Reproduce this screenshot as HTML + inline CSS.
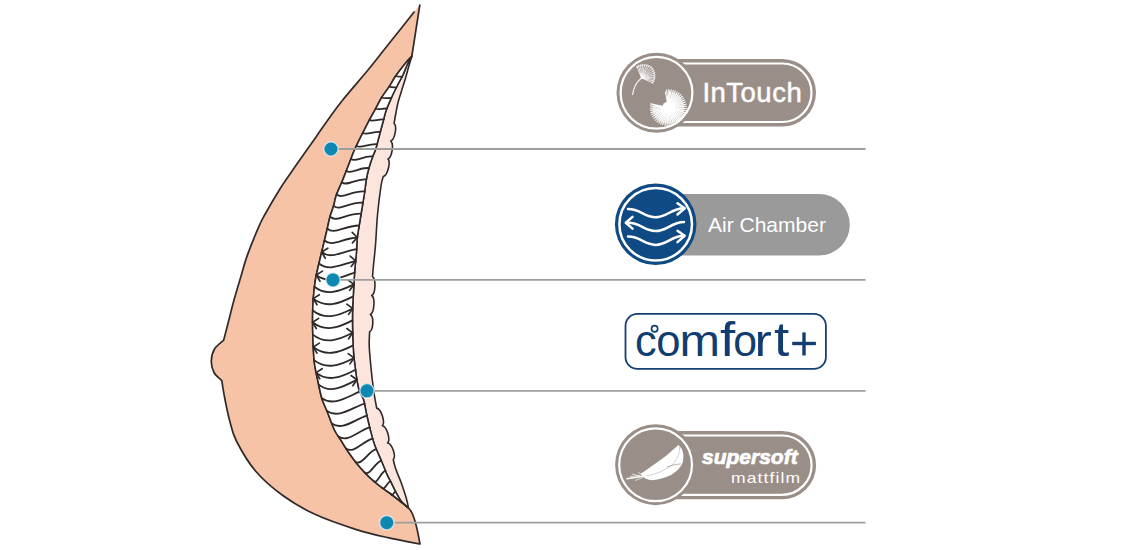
<!DOCTYPE html>
<html><head><meta charset="utf-8">
<style>
html,body{margin:0;padding:0;background:#fff;}
body{width:1140px;height:550px;overflow:hidden;position:relative;font-family:"Liberation Sans",sans-serif;}
svg{position:absolute;left:0;top:0;}
</style></head><body>
<svg width="1140" height="550" viewBox="0 0 1140 550">
<path d="M419.90,4.50 L414.50,11.50 C409.40,17.92 391.65,40.25 383.90,50.00 C376.15,59.75 374.87,61.67 368.00,70.00 C361.13,78.33 349.18,91.97 342.70,100.00 C336.22,108.03 333.48,112.13 329.10,118.20 C324.72,124.27 320.65,130.35 316.40,136.40 C312.15,142.45 307.85,148.45 303.60,154.50 C299.35,160.55 294.95,166.78 290.90,172.70 C286.85,178.62 283.58,183.12 279.30,190.00 C275.02,196.88 268.65,207.82 265.20,214.00 C261.75,220.18 261.58,220.20 258.60,227.10 C255.62,234.00 250.28,247.05 247.30,255.40 C244.32,263.75 242.92,269.77 240.70,277.20 C238.48,284.63 236.05,292.57 234.00,300.00 C231.95,307.43 230.13,315.07 228.40,321.80 C226.67,328.53 224.40,337.30 223.60,340.40 C222.08,341.83 216.55,345.57 214.50,349.00 C212.45,352.43 211.38,357.08 211.30,361.00 C211.22,364.92 212.25,369.22 214.00,372.50 C215.75,375.78 220.50,379.33 221.80,380.70 C222.28,383.58 223.42,391.45 224.70,398.00 C225.98,404.55 227.55,412.83 229.50,420.00 C231.45,427.17 232.07,432.50 236.40,441.00 C240.73,449.50 247.77,461.92 255.50,471.00 C263.23,480.08 272.80,488.23 282.80,495.50 C292.80,502.77 303.23,508.92 315.50,514.60 C327.77,520.28 344.15,525.72 356.40,529.60 C368.65,533.48 378.40,535.50 389.00,537.90 C399.60,540.30 414.83,542.98 420.00,544.00 C419.70,542.42 418.80,537.43 418.20,534.50 C417.60,531.57 417.08,529.12 416.40,526.40 C415.72,523.68 414.93,520.63 414.10,518.20 C413.27,515.77 412.37,513.53 411.40,511.80 C410.43,510.07 408.82,508.47 408.30,507.80 C407.15,506.88 404.07,504.43 401.40,502.30 C398.73,500.17 395.33,497.28 392.30,495.00 C389.27,492.72 386.23,490.87 383.20,488.60 C380.17,486.33 377.13,484.03 374.10,481.40 C371.07,478.77 368.05,476.00 365.00,472.80 C361.95,469.60 358.75,465.92 355.80,462.20 C352.85,458.48 349.85,454.28 347.30,450.50 C344.75,446.72 342.63,442.92 340.50,439.50 C338.37,436.08 336.70,434.62 334.50,430.00 C332.30,425.38 329.42,417.10 327.30,411.80 C325.18,406.50 323.40,403.50 321.80,398.20 C320.20,392.90 318.95,386.03 317.70,380.00 C316.45,373.97 315.08,368.67 314.30,362.00 C313.52,355.33 313.28,347.00 313.00,340.00 C312.72,333.00 312.57,326.67 312.60,320.00 C312.63,313.33 312.73,306.67 313.20,300.00 C313.67,293.33 314.30,286.67 315.40,280.00 C316.50,273.33 318.28,266.58 319.80,260.00 C321.32,253.42 323.25,245.73 324.50,240.50 C325.75,235.27 326.38,232.55 327.30,228.60 C328.22,224.65 328.95,220.58 330.00,216.80 C331.05,213.02 332.53,209.53 333.60,205.90 C334.67,202.27 335.03,198.93 336.40,195.00 C337.77,191.07 340.27,186.02 341.80,182.30 C343.33,178.58 344.08,176.58 345.60,172.70 C347.12,168.82 349.42,162.78 350.90,159.00 C352.38,155.22 352.73,153.92 354.50,150.00 C356.27,146.08 359.13,140.28 361.50,135.50 C363.87,130.72 366.40,125.67 368.70,121.30 C371.00,116.93 373.12,113.30 375.30,109.30 C377.48,105.30 379.45,101.12 381.80,97.30 C384.15,93.48 387.28,89.65 389.40,86.40 C391.52,83.15 392.65,80.62 394.50,77.80 C396.35,74.98 398.22,72.47 400.50,69.50 C402.78,66.53 406.32,62.17 408.20,60.00 C410.08,57.83 411.20,57.08 411.80,56.50 Z" fill="#F7C3A6"/>
<path d="M414.50,11.50 C409.40,17.92 391.65,40.25 383.90,50.00 C376.15,59.75 374.87,61.67 368.00,70.00 C361.13,78.33 349.18,91.97 342.70,100.00 C336.22,108.03 333.48,112.13 329.10,118.20 C324.72,124.27 320.65,130.35 316.40,136.40 C312.15,142.45 307.85,148.45 303.60,154.50 C299.35,160.55 294.95,166.78 290.90,172.70 C286.85,178.62 283.58,183.12 279.30,190.00 C275.02,196.88 268.65,207.82 265.20,214.00 C261.75,220.18 261.58,220.20 258.60,227.10 C255.62,234.00 250.28,247.05 247.30,255.40 C244.32,263.75 242.92,269.77 240.70,277.20 C238.48,284.63 236.05,292.57 234.00,300.00 C231.95,307.43 230.13,315.07 228.40,321.80 C226.67,328.53 224.40,337.30 223.60,340.40 C222.08,341.83 216.55,345.57 214.50,349.00 C212.45,352.43 211.38,357.08 211.30,361.00 C211.22,364.92 212.25,369.22 214.00,372.50 C215.75,375.78 220.50,379.33 221.80,380.70 C222.28,383.58 223.42,391.45 224.70,398.00 C225.98,404.55 227.55,412.83 229.50,420.00 C231.45,427.17 232.07,432.50 236.40,441.00 C240.73,449.50 247.77,461.92 255.50,471.00 C263.23,480.08 272.80,488.23 282.80,495.50 C292.80,502.77 303.23,508.92 315.50,514.60 C327.77,520.28 344.15,525.72 356.40,529.60 C368.65,533.48 378.40,535.50 389.00,537.90 C399.60,540.30 414.83,542.98 420.00,544.00 C419.70,542.42 418.80,537.43 418.20,534.50 C417.60,531.57 417.08,529.12 416.40,526.40 C415.72,523.68 414.93,520.63 414.10,518.20 C413.27,515.77 412.37,513.53 411.40,511.80 C410.43,510.07 408.82,508.47 408.30,507.80 C407.15,506.88 404.07,504.43 401.40,502.30 C398.73,500.17 395.33,497.28 392.30,495.00 C389.27,492.72 386.23,490.87 383.20,488.60 C380.17,486.33 377.13,484.03 374.10,481.40 C371.07,478.77 368.05,476.00 365.00,472.80 C361.95,469.60 358.75,465.92 355.80,462.20 C352.85,458.48 349.85,454.28 347.30,450.50 C344.75,446.72 342.63,442.92 340.50,439.50 C338.37,436.08 336.70,434.62 334.50,430.00 C332.30,425.38 329.42,417.10 327.30,411.80 C325.18,406.50 323.40,403.50 321.80,398.20 C320.20,392.90 318.95,386.03 317.70,380.00 C316.45,373.97 315.08,368.67 314.30,362.00 C313.52,355.33 313.28,347.00 313.00,340.00 C312.72,333.00 312.57,326.67 312.60,320.00 C312.63,313.33 312.73,306.67 313.20,300.00 C313.67,293.33 314.30,286.67 315.40,280.00 C316.50,273.33 318.28,266.58 319.80,260.00 C321.32,253.42 323.25,245.73 324.50,240.50 C325.75,235.27 326.38,232.55 327.30,228.60 C328.22,224.65 328.95,220.58 330.00,216.80 C331.05,213.02 332.53,209.53 333.60,205.90 C334.67,202.27 335.03,198.93 336.40,195.00 C337.77,191.07 340.27,186.02 341.80,182.30 C343.33,178.58 344.08,176.58 345.60,172.70 C347.12,168.82 349.42,162.78 350.90,159.00 C352.38,155.22 352.73,153.92 354.50,150.00 C356.27,146.08 359.13,140.28 361.50,135.50 C363.87,130.72 366.40,125.67 368.70,121.30 C371.00,116.93 373.12,113.30 375.30,109.30 C377.48,105.30 379.45,101.12 381.80,97.30 C384.15,93.48 387.28,89.65 389.40,86.40 C391.52,83.15 392.65,80.62 394.50,77.80 C396.35,74.98 398.22,72.47 400.50,69.50 C402.78,66.53 406.32,62.17 408.20,60.00 C410.08,57.83 411.20,57.08 411.80,56.50 L419.90,4.50" fill="none" stroke="#2f2a29" stroke-width="1.7" stroke-linejoin="round"/>
<path d="M411.80,56.50 C411.33,58.00 410.05,61.88 409.00,65.50 C407.95,69.12 406.70,74.12 405.50,78.20 C404.30,82.28 403.02,86.07 401.80,90.00 C400.58,93.93 399.15,98.13 398.20,101.80 C397.25,105.47 396.78,108.42 396.10,112.00 C395.42,115.58 394.43,121.42 394.10,123.30 C397.37,126.11 394.86,139.64 390.80,141.10 C394.14,143.81 392.01,157.34 388.00,158.90 C391.03,161.97 387.46,175.35 383.30,176.50 C382.92,178.08 381.97,179.58 381.00,186.00 C380.03,192.42 378.42,205.17 377.50,215.00 C376.58,224.83 376.17,236.67 375.50,245.00 C374.83,253.33 374.00,259.73 373.50,265.00 C373.00,270.27 372.67,274.67 372.50,276.60 C376.14,279.01 375.61,293.37 371.80,295.50 C375.35,298.05 374.28,312.49 370.40,314.50 C374.02,316.76 373.42,329.98 369.60,331.90 C369.53,334.08 369.08,340.32 369.20,345.00 C369.32,349.68 369.78,354.17 370.30,360.00 C370.82,365.83 371.60,374.00 372.30,380.00 C373.00,386.00 373.77,391.32 374.50,396.00 C375.23,400.68 376.33,406.08 376.70,408.10 C381.18,408.98 385.51,422.36 382.40,425.70 C386.85,426.63 390.80,439.78 387.60,443.00 C392.06,443.70 396.39,456.31 393.30,459.60 C393.55,460.67 394.07,463.58 394.80,466.00 C395.53,468.42 396.60,471.23 397.70,474.10 C398.80,476.97 400.18,479.87 401.40,483.20 C402.62,486.53 403.98,490.80 405.00,494.10 C406.02,497.40 406.95,500.72 407.50,503.00 C408.05,505.28 408.17,507.00 408.30,507.80 C407.15,506.73 403.47,503.98 401.40,501.40 C399.33,498.82 397.57,495.33 395.90,492.30 C394.23,489.27 392.92,486.23 391.40,483.20 C389.88,480.17 388.53,477.97 386.80,474.10 C385.07,470.23 383.03,464.85 381.00,460.00 C378.97,455.15 376.38,450.00 374.60,445.00 C372.82,440.00 371.65,435.17 370.30,430.00 C368.95,424.83 367.62,419.00 366.50,414.00 C365.38,409.00 364.85,404.00 363.60,400.00 C362.35,396.00 360.12,393.33 359.00,390.00 C357.88,386.67 357.50,383.50 356.90,380.00 C356.30,376.50 355.88,372.67 355.40,369.00 C354.92,365.33 354.37,361.67 354.00,358.00 C353.63,354.33 353.43,351.67 353.20,347.00 C352.97,342.33 352.70,336.17 352.60,330.00 C352.50,323.83 352.43,316.67 352.60,310.00 C352.77,303.33 353.23,296.67 353.60,290.00 C353.97,283.33 354.33,276.22 354.80,270.00 C355.27,263.78 355.98,258.08 356.40,252.70 C356.82,247.32 356.85,242.15 357.30,237.70 C357.75,233.25 358.50,229.78 359.10,226.00 C359.70,222.22 360.30,218.67 360.90,215.00 C361.50,211.33 362.10,207.67 362.70,204.00 C363.30,200.33 363.88,197.17 364.50,193.00 C365.12,188.83 365.65,183.22 366.40,179.00 C367.15,174.78 367.95,171.47 369.00,167.70 C370.05,163.93 371.58,159.52 372.70,156.40 C373.82,153.28 374.40,153.23 375.70,149.00 C377.00,144.77 379.30,135.45 380.50,131.00 C381.70,126.55 381.95,125.75 382.90,122.30 C383.85,118.85 384.75,114.47 386.20,110.30 C387.65,106.13 389.70,101.52 391.60,97.30 C393.50,93.08 395.75,88.63 397.60,85.00 C399.45,81.37 401.08,78.92 402.70,75.50 C404.32,72.08 405.78,67.67 407.30,64.50 C408.82,61.33 411.05,57.83 411.80,56.50 Z" fill="#FCE5DC" stroke="#2f2a29" stroke-width="1.6" stroke-linejoin="round"/>
<path d="M411.80,56.50 C411.20,57.08 410.08,57.83 408.20,60.00 C406.32,62.17 402.78,66.53 400.50,69.50 C398.22,72.47 396.35,74.98 394.50,77.80 C392.65,80.62 391.52,83.15 389.40,86.40 C387.28,89.65 384.15,93.48 381.80,97.30 C379.45,101.12 377.48,105.30 375.30,109.30 C373.12,113.30 371.00,116.93 368.70,121.30 C366.40,125.67 363.87,130.72 361.50,135.50 C359.13,140.28 356.27,146.08 354.50,150.00 C352.73,153.92 352.38,155.22 350.90,159.00 C349.42,162.78 347.12,168.82 345.60,172.70 C344.08,176.58 343.33,178.58 341.80,182.30 C340.27,186.02 337.77,191.07 336.40,195.00 C335.03,198.93 334.67,202.27 333.60,205.90 C332.53,209.53 331.05,213.02 330.00,216.80 C328.95,220.58 328.22,224.65 327.30,228.60 C326.38,232.55 325.75,235.27 324.50,240.50 C323.25,245.73 321.32,253.42 319.80,260.00 C318.28,266.58 316.50,273.33 315.40,280.00 C314.30,286.67 313.67,293.33 313.20,300.00 C312.73,306.67 312.63,313.33 312.60,320.00 C312.57,326.67 312.72,333.00 313.00,340.00 C313.28,347.00 313.52,355.33 314.30,362.00 C315.08,368.67 316.45,373.97 317.70,380.00 C318.95,386.03 320.20,392.90 321.80,398.20 C323.40,403.50 325.18,406.50 327.30,411.80 C329.42,417.10 332.30,425.38 334.50,430.00 C336.70,434.62 338.37,436.08 340.50,439.50 C342.63,442.92 344.75,446.72 347.30,450.50 C349.85,454.28 352.85,458.48 355.80,462.20 C358.75,465.92 361.95,469.60 365.00,472.80 C368.05,476.00 371.07,478.77 374.10,481.40 C377.13,484.03 380.17,486.33 383.20,488.60 C386.23,490.87 389.27,492.72 392.30,495.00 C395.33,497.28 398.73,500.17 401.40,502.30 C404.07,504.43 407.15,506.88 408.30,507.80 C407.15,506.73 403.47,503.98 401.40,501.40 C399.33,498.82 397.57,495.33 395.90,492.30 C394.23,489.27 392.92,486.23 391.40,483.20 C389.88,480.17 388.53,477.97 386.80,474.10 C385.07,470.23 383.03,464.85 381.00,460.00 C378.97,455.15 376.38,450.00 374.60,445.00 C372.82,440.00 371.65,435.17 370.30,430.00 C368.95,424.83 367.62,419.00 366.50,414.00 C365.38,409.00 364.85,404.00 363.60,400.00 C362.35,396.00 360.12,393.33 359.00,390.00 C357.88,386.67 357.50,383.50 356.90,380.00 C356.30,376.50 355.88,372.67 355.40,369.00 C354.92,365.33 354.37,361.67 354.00,358.00 C353.63,354.33 353.43,351.67 353.20,347.00 C352.97,342.33 352.70,336.17 352.60,330.00 C352.50,323.83 352.43,316.67 352.60,310.00 C352.77,303.33 353.23,296.67 353.60,290.00 C353.97,283.33 354.33,276.22 354.80,270.00 C355.27,263.78 355.98,258.08 356.40,252.70 C356.82,247.32 356.85,242.15 357.30,237.70 C357.75,233.25 358.50,229.78 359.10,226.00 C359.70,222.22 360.30,218.67 360.90,215.00 C361.50,211.33 362.10,207.67 362.70,204.00 C363.30,200.33 363.88,197.17 364.50,193.00 C365.12,188.83 365.65,183.22 366.40,179.00 C367.15,174.78 367.95,171.47 369.00,167.70 C370.05,163.93 371.58,159.52 372.70,156.40 C373.82,153.28 374.40,153.23 375.70,149.00 C377.00,144.77 379.30,135.45 380.50,131.00 C381.70,126.55 381.95,125.75 382.90,122.30 C383.85,118.85 384.75,114.47 386.20,110.30 C387.65,106.13 389.70,101.52 391.60,97.30 C393.50,93.08 395.75,88.63 397.60,85.00 C399.45,81.37 401.08,78.92 402.70,75.50 C404.32,72.08 405.78,67.67 407.30,64.50 C408.82,61.33 411.05,57.83 411.80,56.50 Z" fill="#ffffff" stroke="#2f2a29" stroke-width="1.6" stroke-linejoin="round"/>
<path d="M395.71,76.00 C397.57,76.90 400.00,76.63 402.08,76.76" fill="none" stroke="#2f2a29" stroke-width="1.8" stroke-linecap="round"/>
<path d="M389.33,86.50 C391.35,87.66 393.97,87.14 396.40,87.36" fill="none" stroke="#2f2a29" stroke-width="1.8" stroke-linecap="round"/>
<path d="M381.68,97.50 C384.35,98.94 387.79,97.73 391.27,98.04" fill="none" stroke="#2f2a29" stroke-width="1.8" stroke-linecap="round"/>
<path d="M375.73,108.50 C378.77,110.21 382.61,108.12 386.84,108.52" fill="none" stroke="#2f2a29" stroke-width="1.8" stroke-linecap="round"/>
<path d="M369.39,120.00 C373.19,122.00 377.94,118.97 383.63,119.47" fill="none" stroke="#2f2a29" stroke-width="1.8" stroke-linecap="round"/>
<path d="M362.74,133.00 C367.29,135.49 372.88,131.17 380.28,131.83" fill="none" stroke="#2f2a29" stroke-width="1.8" stroke-linecap="round"/>
<path d="M356.37,146.00 C361.59,148.97 367.90,143.27 377.08,144.09" fill="none" stroke="#2f2a29" stroke-width="1.8" stroke-linecap="round"/>
<path d="M350.86,159.10 C356.24,162.57 362.74,155.46 372.68,156.45" fill="none" stroke="#2f2a29" stroke-width="1.8" stroke-linecap="round"/>
<path d="M346.30,170.90 C351.77,174.88 358.43,167.09 368.89,168.09" fill="none" stroke="#2f2a29" stroke-width="1.8" stroke-linecap="round"/>
<path d="M341.80,182.30 C347.64,186.79 354.80,178.38 366.33,179.38" fill="none" stroke="#2f2a29" stroke-width="1.8" stroke-linecap="round"/>
<path d="M336.58,194.50 C343.14,199.53 351.27,190.46 364.72,191.46" fill="none" stroke="#2f2a29" stroke-width="1.8" stroke-linecap="round"/>
<path d="M333.60,205.90 C340.31,211.44 348.70,201.79 362.91,202.74" fill="none" stroke="#2f2a29" stroke-width="1.8" stroke-linecap="round"/>
<path d="M330.00,216.80 C337.00,222.81 345.82,213.32 361.12,213.65" fill="none" stroke="#2f2a29" stroke-width="1.8" stroke-linecap="round"/>
<path d="M327.30,228.60 C334.33,235.11 343.27,225.87 359.18,225.52" fill="none" stroke="#2f2a29" stroke-width="1.8" stroke-linecap="round"/>
<path d="M324.50,240.50 C332.18,247.53 341.60,238.58 357.32,237.51" fill="none" stroke="#2f2a29" stroke-width="1.8" stroke-linecap="round"/>
<path d="M352.20,232.45 L357.32,237.51 L352.44,242.80" fill="none" stroke="#2f2a29" stroke-width="1.7" stroke-linecap="round" stroke-linejoin="round"/>
<path d="M321.70,252.00 C330.41,259.60 340.70,251.84 356.63,249.16" fill="none" stroke="#2f2a29" stroke-width="1.8" stroke-linecap="round"/>
<path d="M325.29,258.24 L321.70,252.00 L327.82,248.20" fill="none" stroke="#2f2a29" stroke-width="1.7" stroke-linecap="round" stroke-linejoin="round"/>
<path d="M318.98,263.50 C328.68,271.68 339.77,265.10 355.64,260.81" fill="none" stroke="#2f2a29" stroke-width="1.8" stroke-linecap="round"/>
<path d="M350.18,256.12 L355.64,260.81 L351.14,266.43" fill="none" stroke="#2f2a29" stroke-width="1.7" stroke-linecap="round" stroke-linejoin="round"/>
<path d="M316.34,275.00 C327.06,283.75 338.93,278.37 354.62,272.47" fill="none" stroke="#2f2a29" stroke-width="1.8" stroke-linecap="round"/>
<path d="M319.99,281.20 L316.34,275.00 L322.41,271.13" fill="none" stroke="#2f2a29" stroke-width="1.7" stroke-linecap="round" stroke-linejoin="round"/>
<path d="M314.43,286.80 C326.10,296.14 338.65,291.98 353.90,284.42" fill="none" stroke="#2f2a29" stroke-width="1.8" stroke-linecap="round"/>
<path d="M348.14,280.11 L353.90,284.42 L349.79,290.33" fill="none" stroke="#2f2a29" stroke-width="1.7" stroke-linecap="round" stroke-linejoin="round"/>
<path d="M313.30,298.60 C325.28,308.10 338.06,304.38 353.23,296.38" fill="none" stroke="#2f2a29" stroke-width="1.8" stroke-linecap="round"/>
<path d="M316.98,304.79 L313.30,298.60 L319.36,294.70" fill="none" stroke="#2f2a29" stroke-width="1.7" stroke-linecap="round" stroke-linejoin="round"/>
<path d="M312.73,310.50 C324.70,320.00 337.48,316.43 352.65,308.43" fill="none" stroke="#2f2a29" stroke-width="1.8" stroke-linecap="round"/>
<path d="M346.85,304.16 L352.65,308.43 L348.58,314.37" fill="none" stroke="#2f2a29" stroke-width="1.7" stroke-linecap="round" stroke-linejoin="round"/>
<path d="M312.60,322.30 C324.57,331.80 337.34,328.37 352.50,320.37" fill="none" stroke="#2f2a29" stroke-width="1.8" stroke-linecap="round"/>
<path d="M316.28,328.49 L312.60,322.30 L318.65,318.40" fill="none" stroke="#2f2a29" stroke-width="1.7" stroke-linecap="round" stroke-linejoin="round"/>
<path d="M312.81,334.60 C324.76,344.10 337.51,340.82 352.66,332.82" fill="none" stroke="#2f2a29" stroke-width="1.8" stroke-linecap="round"/>
<path d="M346.86,328.55 L352.66,332.82 L348.60,338.76" fill="none" stroke="#2f2a29" stroke-width="1.7" stroke-linecap="round" stroke-linejoin="round"/>
<path d="M313.28,347.00 C325.23,356.50 337.98,353.36 353.12,345.36" fill="none" stroke="#2f2a29" stroke-width="1.8" stroke-linecap="round"/>
<path d="M316.96,353.19 L313.28,347.00 L319.33,343.11" fill="none" stroke="#2f2a29" stroke-width="1.7" stroke-linecap="round" stroke-linejoin="round"/>
<path d="M314.10,360.10 C326.07,369.60 338.83,365.93 353.99,357.93" fill="none" stroke="#2f2a29" stroke-width="1.8" stroke-linecap="round"/>
<path d="M348.19,353.67 L353.99,357.93 L349.93,363.88" fill="none" stroke="#2f2a29" stroke-width="1.7" stroke-linecap="round" stroke-linejoin="round"/>
<path d="M316.11,372.60 C327.93,382.10 340.53,377.73 355.50,369.73" fill="none" stroke="#2f2a29" stroke-width="1.8" stroke-linecap="round"/>
<path d="M319.78,378.80 L316.11,372.60 L322.17,368.72" fill="none" stroke="#2f2a29" stroke-width="1.7" stroke-linecap="round" stroke-linejoin="round"/>
<path d="M318.63,384.60 C330.10,393.75 342.34,387.32 356.86,379.78" fill="none" stroke="#2f2a29" stroke-width="1.8" stroke-linecap="round"/>
<path d="M351.07,375.50 L356.86,379.78 L352.79,385.71" fill="none" stroke="#2f2a29" stroke-width="1.7" stroke-linecap="round" stroke-linejoin="round"/>
<path d="M321.80,398.20 C333.16,406.33 345.28,397.86 359.67,391.68" fill="none" stroke="#2f2a29" stroke-width="1.8" stroke-linecap="round"/>
<path d="M326.98,411.00 C338.23,418.63 350.24,408.77 364.49,403.50" fill="none" stroke="#2f2a29" stroke-width="1.8" stroke-linecap="round"/>
<path d="M331.81,423.60 C342.33,430.81 353.54,420.04 366.86,415.62" fill="none" stroke="#2f2a29" stroke-width="1.8" stroke-linecap="round"/>
<path d="M338.45,436.50 C347.81,443.07 357.80,431.03 369.65,427.47" fill="none" stroke="#2f2a29" stroke-width="1.8" stroke-linecap="round"/>
<path d="M345.99,448.50 C353.97,454.27 362.48,441.37 372.58,438.60" fill="none" stroke="#2f2a29" stroke-width="1.8" stroke-linecap="round"/>
<path d="M355.33,461.60 C361.60,466.50 368.29,451.14 376.24,449.18" fill="none" stroke="#2f2a29" stroke-width="1.8" stroke-linecap="round"/>
<path d="M364.72,472.50 C369.68,476.72 374.97,462.28 381.25,460.59" fill="none" stroke="#2f2a29" stroke-width="1.8" stroke-linecap="round"/>
<path d="M373.64,481.00 C377.15,484.69 380.90,472.18 385.35,470.70" fill="none" stroke="#2f2a29" stroke-width="1.8" stroke-linecap="round"/>
<path d="M382.00,487.70 C384.51,490.97 387.20,482.54 390.38,481.23" fill="none" stroke="#2f2a29" stroke-width="1.8" stroke-linecap="round"/>
<path d="M390.94,494.00 C392.28,496.88 393.71,492.55 395.42,491.40" fill="none" stroke="#2f2a29" stroke-width="1.8" stroke-linecap="round"/>
<line x1="331.0" y1="149.0" x2="865.5" y2="149.0" stroke="#9e9e9e" stroke-width="1.8"/>
<line x1="333.0" y1="279.9" x2="865.5" y2="279.9" stroke="#9e9e9e" stroke-width="1.8"/>
<line x1="367.0" y1="390.8" x2="865.5" y2="390.8" stroke="#9e9e9e" stroke-width="1.8"/>
<line x1="386.8" y1="522.7" x2="865.5" y2="522.7" stroke="#9e9e9e" stroke-width="1.8"/>
<circle cx="331.0" cy="149.0" r="7.2" fill="#0E88B3" stroke="#e4f2f4" stroke-opacity="0.75" stroke-width="1.4"/>
<circle cx="333.0" cy="279.9" r="7.2" fill="#0E88B3" stroke="#e4f2f4" stroke-opacity="0.75" stroke-width="1.4"/>
<circle cx="367.0" cy="390.8" r="7.2" fill="#0E88B3" stroke="#e4f2f4" stroke-opacity="0.75" stroke-width="1.4"/>
<circle cx="386.8" cy="522.7" r="7.2" fill="#0E88B3" stroke="#e4f2f4" stroke-opacity="0.75" stroke-width="1.4"/>
<rect x="630" y="59" width="186" height="67.5" rx="33.75" fill="#9a8e88"/>
<rect x="634.5" y="63.5" width="177" height="58.5" rx="29.25" fill="none" stroke="#fff" stroke-width="2.2"/>
<circle cx="656.5" cy="92.8" r="40" fill="#9a8e88"/>
<circle cx="656.5" cy="92.8" r="35.9" fill="none" stroke="#fff" stroke-width="2.2"/>
<line x1="641.5" y1="78.0" x2="637.0" y2="66.8" stroke="#fff" stroke-width="0.9" stroke-linecap="round" opacity="0.85"/>
<circle cx="637.0" cy="66.8" r="1.1" fill="#fff" opacity="0.6"/>
<line x1="641.5" y1="78.0" x2="638.7" y2="65.9" stroke="#fff" stroke-width="0.9" stroke-linecap="round" opacity="0.85"/>
<circle cx="638.7" cy="65.9" r="1.1" fill="#fff" opacity="0.6"/>
<line x1="641.5" y1="78.0" x2="640.6" y2="65.3" stroke="#fff" stroke-width="0.9" stroke-linecap="round" opacity="0.85"/>
<circle cx="640.6" cy="65.3" r="1.1" fill="#fff" opacity="0.6"/>
<line x1="641.5" y1="78.0" x2="642.6" y2="65.0" stroke="#fff" stroke-width="0.9" stroke-linecap="round" opacity="0.85"/>
<circle cx="642.6" cy="65.0" r="1.1" fill="#fff" opacity="0.6"/>
<line x1="641.5" y1="78.0" x2="644.7" y2="65.0" stroke="#fff" stroke-width="0.9" stroke-linecap="round" opacity="0.85"/>
<circle cx="644.7" cy="65.0" r="1.1" fill="#fff" opacity="0.6"/>
<line x1="641.5" y1="78.0" x2="646.9" y2="65.4" stroke="#fff" stroke-width="0.9" stroke-linecap="round" opacity="0.85"/>
<circle cx="646.9" cy="65.4" r="1.1" fill="#fff" opacity="0.6"/>
<line x1="641.5" y1="78.0" x2="648.9" y2="66.1" stroke="#fff" stroke-width="0.9" stroke-linecap="round" opacity="0.85"/>
<circle cx="648.9" cy="66.1" r="1.1" fill="#fff" opacity="0.6"/>
<line x1="641.5" y1="78.0" x2="650.9" y2="67.2" stroke="#fff" stroke-width="0.9" stroke-linecap="round" opacity="0.85"/>
<circle cx="650.9" cy="67.2" r="1.1" fill="#fff" opacity="0.6"/>
<line x1="641.5" y1="78.0" x2="652.5" y2="68.8" stroke="#fff" stroke-width="0.9" stroke-linecap="round" opacity="0.85"/>
<circle cx="652.5" cy="68.8" r="1.1" fill="#fff" opacity="0.6"/>
<line x1="641.5" y1="78.0" x2="653.5" y2="70.8" stroke="#fff" stroke-width="0.9" stroke-linecap="round" opacity="0.85"/>
<circle cx="653.5" cy="70.8" r="1.1" fill="#fff" opacity="0.6"/>
<line x1="641.5" y1="78.0" x2="654.2" y2="72.9" stroke="#fff" stroke-width="0.9" stroke-linecap="round" opacity="0.85"/>
<circle cx="654.2" cy="72.9" r="1.1" fill="#fff" opacity="0.6"/>
<line x1="641.5" y1="78.0" x2="654.5" y2="75.0" stroke="#fff" stroke-width="0.9" stroke-linecap="round" opacity="0.85"/>
<circle cx="654.5" cy="75.0" r="1.1" fill="#fff" opacity="0.6"/>
<line x1="641.5" y1="78.0" x2="654.5" y2="77.1" stroke="#fff" stroke-width="0.9" stroke-linecap="round" opacity="0.85"/>
<circle cx="654.5" cy="77.1" r="1.1" fill="#fff" opacity="0.6"/>
<line x1="641.5" y1="78.0" x2="654.2" y2="79.1" stroke="#fff" stroke-width="0.9" stroke-linecap="round" opacity="0.85"/>
<circle cx="654.2" cy="79.1" r="1.1" fill="#fff" opacity="0.6"/>
<line x1="641.5" y1="78.0" x2="653.5" y2="81.0" stroke="#fff" stroke-width="0.9" stroke-linecap="round" opacity="0.85"/>
<circle cx="653.5" cy="81.0" r="1.1" fill="#fff" opacity="0.6"/>
<line x1="641.5" y1="78.0" x2="652.6" y2="82.7" stroke="#fff" stroke-width="0.9" stroke-linecap="round" opacity="0.85"/>
<circle cx="652.6" cy="82.7" r="1.1" fill="#fff" opacity="0.6"/>
<path d="M641.5,78.0 Q634,84 632.5,95" fill="none" stroke="#fff" stroke-width="1.1" opacity="0.9"/>
<path d="M668.3,107.6 L668.8,91.6 A16,16 0 1 1 652.5999999999999,104.6 Z" fill="#fff" opacity="0.55"/>
<line x1="667.8" y1="101.6" x2="666.7" y2="89.7" stroke="#fff" stroke-width="1.1" stroke-linecap="round"/>
<line x1="668.5" y1="101.6" x2="668.9" y2="89.6" stroke="#fff" stroke-width="1.1" stroke-linecap="round"/>
<line x1="669.2" y1="101.7" x2="671.1" y2="89.8" stroke="#fff" stroke-width="1.1" stroke-linecap="round"/>
<line x1="670.0" y1="101.8" x2="673.3" y2="90.3" stroke="#fff" stroke-width="1.1" stroke-linecap="round"/>
<line x1="670.6" y1="102.1" x2="675.3" y2="91.0" stroke="#fff" stroke-width="1.1" stroke-linecap="round"/>
<line x1="671.3" y1="102.4" x2="677.3" y2="92.0" stroke="#fff" stroke-width="1.1" stroke-linecap="round"/>
<line x1="671.9" y1="102.8" x2="679.1" y2="93.2" stroke="#fff" stroke-width="1.1" stroke-linecap="round"/>
<line x1="672.5" y1="103.3" x2="680.8" y2="94.7" stroke="#fff" stroke-width="1.1" stroke-linecap="round"/>
<line x1="673.0" y1="103.8" x2="682.3" y2="96.3" stroke="#fff" stroke-width="1.1" stroke-linecap="round"/>
<line x1="673.4" y1="104.4" x2="683.6" y2="98.1" stroke="#fff" stroke-width="1.1" stroke-linecap="round"/>
<line x1="673.7" y1="105.1" x2="684.6" y2="100.0" stroke="#fff" stroke-width="1.1" stroke-linecap="round"/>
<line x1="674.0" y1="105.7" x2="685.4" y2="102.0" stroke="#fff" stroke-width="1.1" stroke-linecap="round"/>
<line x1="674.2" y1="106.5" x2="686.0" y2="104.2" stroke="#fff" stroke-width="1.1" stroke-linecap="round"/>
<line x1="674.3" y1="107.2" x2="686.3" y2="106.3" stroke="#fff" stroke-width="1.1" stroke-linecap="round"/>
<line x1="674.3" y1="107.9" x2="686.3" y2="108.5" stroke="#fff" stroke-width="1.1" stroke-linecap="round"/>
<line x1="674.2" y1="108.6" x2="686.0" y2="110.7" stroke="#fff" stroke-width="1.1" stroke-linecap="round"/>
<line x1="674.0" y1="109.4" x2="685.5" y2="112.9" stroke="#fff" stroke-width="1.1" stroke-linecap="round"/>
<line x1="673.8" y1="110.0" x2="684.7" y2="114.9" stroke="#fff" stroke-width="1.1" stroke-linecap="round"/>
<line x1="673.4" y1="110.7" x2="683.7" y2="116.9" stroke="#fff" stroke-width="1.1" stroke-linecap="round"/>
<line x1="673.0" y1="111.3" x2="682.5" y2="118.7" stroke="#fff" stroke-width="1.1" stroke-linecap="round"/>
<line x1="672.5" y1="111.8" x2="681.0" y2="120.3" stroke="#fff" stroke-width="1.1" stroke-linecap="round"/>
<line x1="672.0" y1="112.3" x2="679.4" y2="121.8" stroke="#fff" stroke-width="1.1" stroke-linecap="round"/>
<line x1="671.4" y1="112.7" x2="677.6" y2="123.0" stroke="#fff" stroke-width="1.1" stroke-linecap="round"/>
<line x1="670.7" y1="113.1" x2="675.6" y2="124.0" stroke="#fff" stroke-width="1.1" stroke-linecap="round"/>
<line x1="670.1" y1="113.3" x2="673.6" y2="124.8" stroke="#fff" stroke-width="1.1" stroke-linecap="round"/>
<line x1="669.3" y1="113.5" x2="671.4" y2="125.3" stroke="#fff" stroke-width="1.1" stroke-linecap="round"/>
<line x1="668.6" y1="113.6" x2="669.2" y2="125.6" stroke="#fff" stroke-width="1.1" stroke-linecap="round"/>
<line x1="667.9" y1="113.6" x2="667.0" y2="125.6" stroke="#fff" stroke-width="1.1" stroke-linecap="round"/>
<line x1="667.2" y1="113.5" x2="664.9" y2="125.3" stroke="#fff" stroke-width="1.1" stroke-linecap="round"/>
<line x1="666.4" y1="113.3" x2="662.7" y2="124.7" stroke="#fff" stroke-width="1.1" stroke-linecap="round"/>
<line x1="665.8" y1="113.0" x2="660.7" y2="123.9" stroke="#fff" stroke-width="1.1" stroke-linecap="round"/>
<line x1="665.1" y1="112.7" x2="658.8" y2="122.9" stroke="#fff" stroke-width="1.1" stroke-linecap="round"/>
<line x1="664.5" y1="112.3" x2="657.0" y2="121.6" stroke="#fff" stroke-width="1.1" stroke-linecap="round"/>
<line x1="664.0" y1="111.8" x2="655.4" y2="120.1" stroke="#fff" stroke-width="1.1" stroke-linecap="round"/>
<line x1="663.5" y1="111.2" x2="653.9" y2="118.4" stroke="#fff" stroke-width="1.1" stroke-linecap="round"/>
<line x1="663.1" y1="110.6" x2="652.7" y2="116.6" stroke="#fff" stroke-width="1.1" stroke-linecap="round"/>
<line x1="662.8" y1="109.9" x2="651.7" y2="114.6" stroke="#fff" stroke-width="1.1" stroke-linecap="round"/>
<line x1="662.5" y1="109.3" x2="651.0" y2="112.6" stroke="#fff" stroke-width="1.1" stroke-linecap="round"/>
<line x1="662.4" y1="108.5" x2="650.5" y2="110.4" stroke="#fff" stroke-width="1.1" stroke-linecap="round"/>
<line x1="662.3" y1="107.8" x2="650.3" y2="108.2" stroke="#fff" stroke-width="1.1" stroke-linecap="round"/>
<line x1="662.3" y1="107.1" x2="650.4" y2="106.0" stroke="#fff" stroke-width="1.1" stroke-linecap="round"/>
<line x1="662.4" y1="106.4" x2="650.7" y2="103.9" stroke="#fff" stroke-width="1.1" stroke-linecap="round"/>
<circle cx="668.3" cy="107.6" r="6" fill="#fff"/>
<path d="M668.3,107.6 L665.3,91.6 M668.3,107.6 L669.3,90.6" stroke="#fff" stroke-width="1"/>
<text x="702.4" y="101.8" font-family="Liberation Sans" font-size="27.5" letter-spacing="0.5" fill="#fff" stroke="#fff" stroke-width="0.5">InTouch</text>
<rect x="630" y="194" width="219.8" height="61.5" rx="30.75" fill="#9a9a9b"/>
<circle cx="655.7" cy="224.2" r="40.8" fill="#0f4a85"/>
<circle cx="655.7" cy="224.2" r="36.3" fill="none" stroke="#fff" stroke-width="2.5"/>
<path d="M628,209.0 C641,209.0 644,217.3 655.6,217.3 C667,217.3 671,208.5 684,208.2" fill="none" stroke="#fff" stroke-width="2.5" stroke-linecap="round" stroke-linejoin="round"/>
<path d="M677.5,203.2 L684.7,208.2 L677.5,214.5" fill="none" stroke="#fff" stroke-width="2.5" stroke-linecap="round" stroke-linejoin="round"/>
<path d="M628,222.8 C641,222.8 644,231.10000000000002 655.6,231.10000000000002 C667,231.10000000000002 671,222.3 684,222.0" fill="none" stroke="#fff" stroke-width="2.5" stroke-linecap="round" stroke-linejoin="round"/>
<path d="M632.5,216.9 L625.8,222.8 L632.5,228.60000000000002" fill="none" stroke="#fff" stroke-width="2.5" stroke-linecap="round" stroke-linejoin="round"/>
<path d="M628,236.6 C641,236.6 644,244.9 655.6,244.9 C667,244.9 671,236.1 684,235.79999999999998" fill="none" stroke="#fff" stroke-width="2.5" stroke-linecap="round" stroke-linejoin="round"/>
<path d="M677.5,230.79999999999998 L684.7,235.79999999999998 L677.5,242.1" fill="none" stroke="#fff" stroke-width="2.5" stroke-linecap="round" stroke-linejoin="round"/>
<text x="708" y="231.8" font-family="Liberation Sans" font-size="21" fill="#fff">Air Chamber</text>
<rect x="625.5" y="313.9" width="200.4" height="55" rx="12" fill="#fff" stroke="#163f74" stroke-width="1.8"/>
<text transform="translate(634.9,355.5) scale(0.96,1)" font-family="Liberation Sans" font-size="45" fill="#123d70">c</text>
<text transform="translate(656.3,355.5) scale(0.97,1)" font-family="Liberation Sans" font-size="45" fill="#123d70">o</text>
<text transform="translate(679.5,355.5) scale(1.08,1)" font-family="Liberation Sans" font-size="45" fill="#123d70">m</text>
<text transform="translate(720.1,355.5) scale(1.22,1.08)" font-family="Liberation Sans" font-size="45" fill="#123d70">f</text>
<text transform="translate(733.3,355.5) scale(0.95,1)" font-family="Liberation Sans" font-size="45" fill="#123d70">o</text>
<text transform="translate(754.6,355.5) scale(1.15,1)" font-family="Liberation Sans" font-size="45" fill="#123d70">r</text>
<text transform="translate(774.1,355.5) scale(1.22,1.05)" font-family="Liberation Sans" font-size="45" fill="#123d70">t</text>
<rect x="802.3" y="332.4" width="3.4" height="23.1" fill="#123d70"/>
<rect x="792.2" y="341.8" width="23.7" height="3.4" fill="#123d70"/>
<circle cx="654.6" cy="328.8" r="3.1" fill="#fff" stroke="#123d70" stroke-width="1.7"/>
<rect x="630" y="431" width="186.1" height="68.3" rx="34.15" fill="#9a8e88"/>
<rect x="634.5" y="435.5" width="177.1" height="59.3" rx="29.65" fill="none" stroke="#fff" stroke-width="2.2"/>
<circle cx="655.6" cy="464.7" r="40.5" fill="#9a8e88"/>
<circle cx="655.6" cy="464.7" r="36.4" fill="none" stroke="#fff" stroke-width="2.2"/>
<path d="M678.4,444.9 C674,448.5 669,453.5 665.2,456.4 C661,459.5 655,464 650.5,467 C647,469.5 645,471 640.5,473.8 C644,478.8 648,480 652,480.2 C659,479.5 666,477.5 671,475 C676,472 680.5,468 682.6,463 C684,458 683.5,452 681.5,448.5 Z" fill="#fff"/>
<path d="M643,476.5 C654,475 664,471 672,465 C677,460 680,453 679.5,447" fill="none" stroke="#c4bcb8" stroke-width="0.7"/>
<path d="M666.9,467 C672,465 677,464 680.8,464" fill="none" stroke="#b3aaa5" stroke-width="0.9"/>
<path d="M627,478.8 L646,475.8" stroke="#fff" stroke-width="1.5" stroke-linecap="round"/>
<path d="M632,474 L641,476.5 M635,480.5 L643,477.5 M630,476.5 L640,475.5 M638,472.5 L645,476" stroke="#fff" stroke-width="0.8" opacity="0.85"/>
<text x="702" y="464" font-family="Liberation Sans" font-weight="bold" font-style="italic" font-size="21" fill="#fff" stroke="#fff" stroke-width="0.7" stroke-linejoin="round">supersoft</text>
<text transform="translate(731,483) scale(1.25,1)" x="0" y="0" font-family="Liberation Sans" font-size="14" letter-spacing="0.9" fill="#fff">mattfilm</text>
</svg>
</body></html>
